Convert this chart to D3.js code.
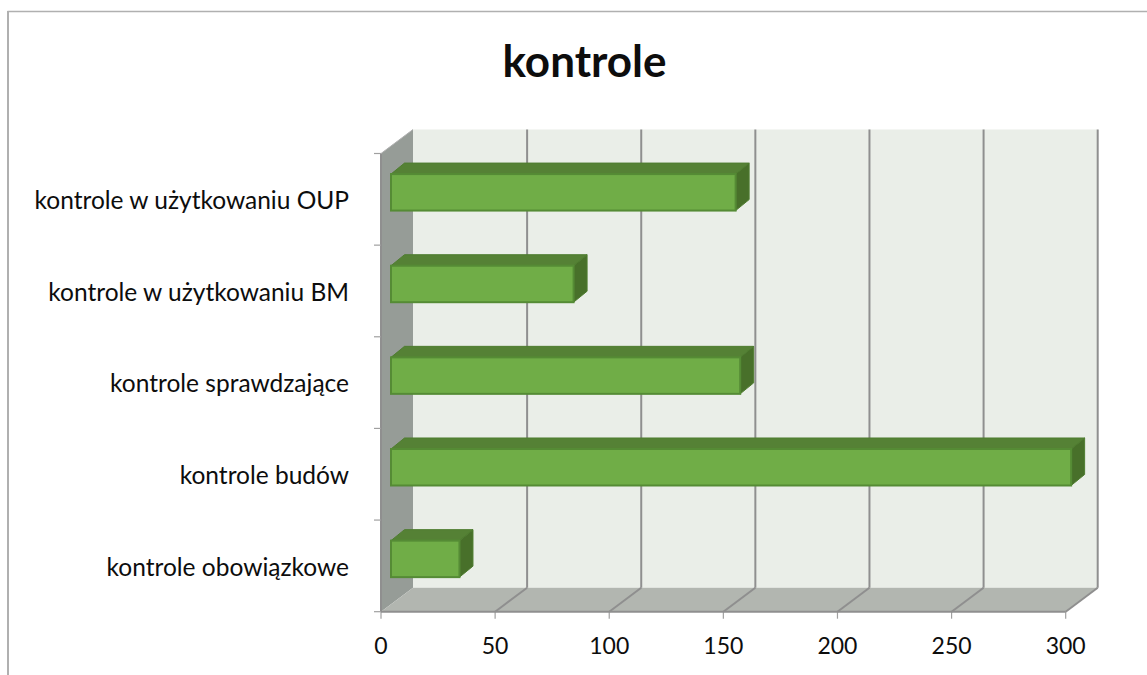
<!DOCTYPE html>
<html>
<head>
<meta charset="utf-8">
<script src="https://cdn.jsdelivr.net/npm/d3@7"></script>
<style>
html,body{margin:0;padding:0;background:#fff;overflow:hidden;}
text{font-family:Lato,"Open Sans",sans-serif;fill:#0d0d0d;}
</style>
</head>
<body>
<div id="chart"></div>
<script>
var categories = ['kontrole w użytkowaniu OUP', 'kontrole w użytkowaniu BM', 'kontrole sprawdzające', 'kontrole budów', 'kontrole obowiązkowe'];
var values = [151, 80, 153, 298, 30];
var xTicks = [0, 50, 100, 150, 200, 250, 300];
var chartTitle = 'kontrole';

var width = 1147, height = 675;
var depthX = 32, depthY = 24;   // wall depth
var barDX = 13.5, barDY = 11;   // bar depth
var barShiftX = 10, barShiftY = 7;
var barH = 36.5;

var svg = d3.select('#chart').append('svg')
  .attr('width', width)
  .attr('height', height);

var x = d3.scaleLinear().domain([0, 300]).range([381, 1065.7]);
var y = d3.scaleBand().domain(categories).range([153.5, 611.7]);
var x0 = x(0), yTop = y.range()[0], yBot = y.range()[1];

var poly = function(pts, fill, stroke, sw) {
  return svg.append('polygon')
    .attr('points', pts.map(function(p) { return p.join(','); }).join(' '))
    .attr('fill', fill)
    .attr('stroke', stroke || 'none')
    .attr('stroke-width', sw || 0);
};
var line = function(a, b, color, sw) {
  svg.append('line')
    .attr('x1', a[0]).attr('y1', a[1])
    .attr('x2', b[0]).attr('y2', b[1])
    .attr('stroke', color).attr('stroke-width', sw);
};

// outer frame, only top and left show
line([7.5, 11.5], [width, 11.5], '#b0b0b0', 1.5);
line([8, 11], [8, height], '#b0b0b0', 2);

// walls
var xEnd = x(300);
poly([[x0+depthX, yTop-depthY], [xEnd+depthX, yTop-depthY], [xEnd+depthX, yBot-depthY], [x0+depthX, yBot-depthY]], '#eaeee8');
poly([[x0, yTop], [x0+depthX, yTop-depthY], [x0+depthX, yBot-depthY], [x0, yBot]], '#969c97');
poly([[x0, yBot], [x0+depthX, yBot-depthY], [xEnd+depthX, yBot-depthY], [xEnd, yBot]], '#b2b6b0');

var gridColor = '#8f8f8f';
xTicks.forEach(function(t) {
  var px = x(t);
  if (t > 0) {
    line([px, yBot], [px+depthX, yBot-depthY], gridColor, 2);
    line([px+depthX, yBot-depthY], [px+depthX, yTop-depthY], gridColor, 2);
  }
  line([px, yBot], [px, yBot+7], '#a0a0a0', 1.2);
  svg.append('text')
    .attr('x', px).attr('y', 654)
    .attr('text-anchor', 'middle')
    .attr('font-size', 23)
    .text(t);
});
line([x0, yTop], [x0, yBot], gridColor, 2);
line([x0, yTop], [x0+depthX, yTop-depthY], '#b0b0b0', 1);
line([x0, yBot], [xEnd, yBot], gridColor, 2);

// category ticks
var bandEdges = categories.map(function(c) { return y(c); }).concat([yBot]);
bandEdges.forEach(function(v) {
  line([x0-7, v], [x0, v], '#a0a0a0', 1.2);
});

// bars, painted back to front
categories.forEach(function(c, i) {
  var mid = y(c) + y.bandwidth()/2 - barShiftY;
  var t = mid - barH/2, b = mid + barH/2;
  var l = x(0) + barShiftX, r = x(values[i]) + barShiftX;
  poly([[l, t], [l+barDX, t-barDY], [r+barDX, t-barDY], [r, t]], '#558135', '#4f7d30', 1);
  poly([[r, t], [r+barDX, t-barDY], [r+barDX, b-barDY], [r, b]], '#48702a', '#4f7d30', 1);
  svg.append('rect')
    .attr('x', l).attr('y', t)
    .attr('width', r-l).attr('height', barH)
    .attr('fill', '#70ad47')
    .attr('stroke', '#558b35')
    .attr('stroke-width', 2);
});

// labels
categories.forEach(function(c) {
  svg.append('text')
    .attr('x', 349)
    .attr('y', y(c) + y.bandwidth()/2 + 9.7)
    .attr('text-anchor', 'end')
    .attr('font-size', 24.5)
    .text(c);
});

svg.append('text')
  .attr('x', 584.5).attr('y', 77)
  .attr('text-anchor', 'middle')
  .attr('font-size', 44)
  .attr('font-weight', 700)
  .text(chartTitle);
</script>
</body>
</html>
